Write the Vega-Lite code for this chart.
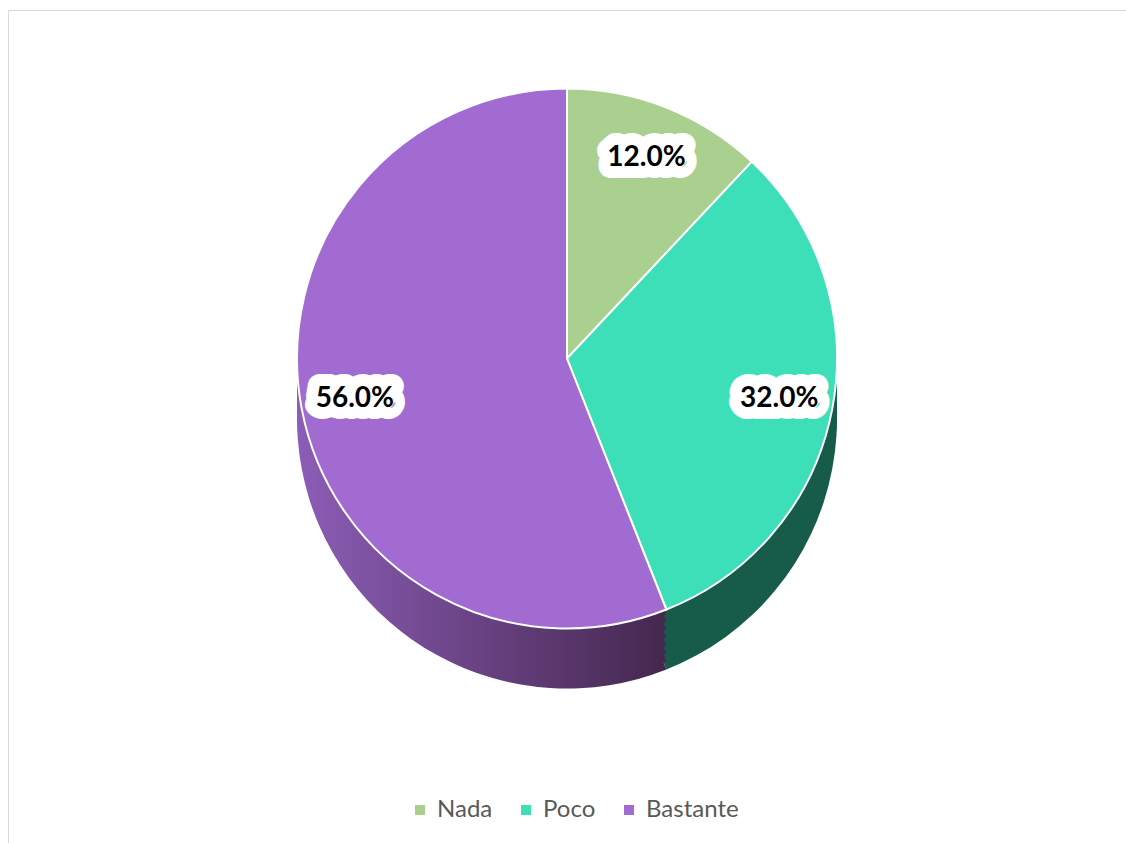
{
  "$schema": "https://vega.github.io/schema/vega-lite/v6.json",
  "autosize": {"type": "fit", "contains": "padding"},
  "width": 1126,
  "height": 843,
  "padding": {"left": 8, "top": 10, "right": 0, "bottom": 0},
  "background": "white",
  "view": {"stroke": "#d9d9d9", "strokeWidth": 1},
  "config": {"font": "Lato"},
  "datasets": {
    "shares": [
      {"cat": "Nada", "share": 0.12},
      {"cat": "Poco", "share": 0.32},
      {"cat": "Bastante", "share": 0.56}
    ]
  },
  "data": {"name": "shares"},
  "transform": [{"window": [{"op": "row_number", "as": "idx"}]}],
  "encoding": {
    "theta": {"field": "share", "type": "quantitative", "stack": true},
    "order": {"field": "idx", "type": "quantitative"}
  },
  "layer": [
    {"mark": {"type": "arc", "outerRadius": 270, "yOffset": -8}, "encoding": {"color": {"condition": [{"test": "datum.cat === 'Poco'", "value": "#175C4A"}, {"test": "datum.cat === 'Bastante'", "value": {"gradient": "linear", "x1": 0, "x2": 1, "y1": 0, "y2": 0, "stops": [{"offset": 0, "color": "#8C5DB6"}, {"offset": 1, "color": "#44274E"}]}}], "value": "#6F8C5C"}}},
    {"mark": {"type": "arc", "outerRadius": 270, "yOffset": -16}, "encoding": {"color": {"condition": [{"test": "datum.cat === 'Poco'", "value": "#175C4A"}, {"test": "datum.cat === 'Bastante'", "value": {"gradient": "linear", "x1": 0, "x2": 1, "y1": 0, "y2": 0, "stops": [{"offset": 0, "color": "#8C5DB6"}, {"offset": 1, "color": "#44274E"}]}}], "value": "#6F8C5C"}}},
    {"mark": {"type": "arc", "outerRadius": 270, "yOffset": -24}, "encoding": {"color": {"condition": [{"test": "datum.cat === 'Poco'", "value": "#175C4A"}, {"test": "datum.cat === 'Bastante'", "value": {"gradient": "linear", "x1": 0, "x2": 1, "y1": 0, "y2": 0, "stops": [{"offset": 0, "color": "#8C5DB6"}, {"offset": 1, "color": "#44274E"}]}}], "value": "#6F8C5C"}}},
    {"mark": {"type": "arc", "outerRadius": 270, "yOffset": -32}, "encoding": {"color": {"condition": [{"test": "datum.cat === 'Poco'", "value": "#175C4A"}, {"test": "datum.cat === 'Bastante'", "value": {"gradient": "linear", "x1": 0, "x2": 1, "y1": 0, "y2": 0, "stops": [{"offset": 0, "color": "#8C5DB6"}, {"offset": 1, "color": "#44274E"}]}}], "value": "#6F8C5C"}}},
    {"mark": {"type": "arc", "outerRadius": 270, "yOffset": -40}, "encoding": {"color": {"condition": [{"test": "datum.cat === 'Poco'", "value": "#175C4A"}, {"test": "datum.cat === 'Bastante'", "value": {"gradient": "linear", "x1": 0, "x2": 1, "y1": 0, "y2": 0, "stops": [{"offset": 0, "color": "#8C5DB6"}, {"offset": 1, "color": "#44274E"}]}}], "value": "#6F8C5C"}}},
    {"mark": {"type": "arc", "outerRadius": 270, "yOffset": -48}, "encoding": {"color": {"condition": [{"test": "datum.cat === 'Poco'", "value": "#175C4A"}, {"test": "datum.cat === 'Bastante'", "value": {"gradient": "linear", "x1": 0, "x2": 1, "y1": 0, "y2": 0, "stops": [{"offset": 0, "color": "#8C5DB6"}, {"offset": 1, "color": "#44274E"}]}}], "value": "#6F8C5C"}}},
    {"mark": {"type": "arc", "outerRadius": 270, "yOffset": -56}, "encoding": {"color": {"condition": [{"test": "datum.cat === 'Poco'", "value": "#175C4A"}, {"test": "datum.cat === 'Bastante'", "value": {"gradient": "linear", "x1": 0, "x2": 1, "y1": 0, "y2": 0, "stops": [{"offset": 0, "color": "#8C5DB6"}, {"offset": 1, "color": "#44274E"}]}}], "value": "#6F8C5C"}}},
    {"mark": {"type": "arc", "outerRadius": 270, "yOffset": -63}, "encoding": {"color": {"condition": [{"test": "datum.cat === 'Poco'", "value": "#175C4A"}, {"test": "datum.cat === 'Bastante'", "value": {"gradient": "linear", "x1": 0, "x2": 1, "y1": 0, "y2": 0, "stops": [{"offset": 0, "color": "#8C5DB6"}, {"offset": 1, "color": "#44274E"}]}}], "value": "#6F8C5C"}}},
    {
      "mark": {"type": "arc", "outerRadius": 270, "yOffset": -68, "stroke": "white", "strokeWidth": 2},
      "encoding": {"color": {
        "field": "cat", "type": "nominal",
        "scale": {"domain": ["Nada", "Poco", "Bastante"], "range": ["#A9D08E", "#3CDFB8", "#A16BD1"]},
        "legend": {
          "orient": "none", "legendX": 400, "legendY": 788, "direction": "horizontal",
          "title": null, "symbolType": "square", "symbolSize": 100, "symbolStrokeWidth": 0,
          "labelFontSize": 24, "labelColor": "#595959", "labelFont": "Lato",
          "labelOffset": 5, "columnPadding": 21
        }
      }}
    },
    {
      "mark": {"type": "text", "radius": 216, "yOffset": -68, "fontSize": 28, "fontWeight": "bold", "font": "Lato", "fill": "white", "stroke": "white", "strokeWidth": 24, "strokeJoin": "round", "align": "center", "baseline": "middle"},
      "encoding": {"text": {"field": "share", "type": "quantitative", "format": ".1%"}}
    },
    {
      "mark": {"type": "text", "radius": 216, "yOffset": -68, "fontSize": 28, "fontWeight": "bold", "font": "Lato", "fill": "black", "align": "center", "baseline": "middle"},
      "encoding": {"text": {"field": "share", "type": "quantitative", "format": ".1%"}}
    }
  ]
}
